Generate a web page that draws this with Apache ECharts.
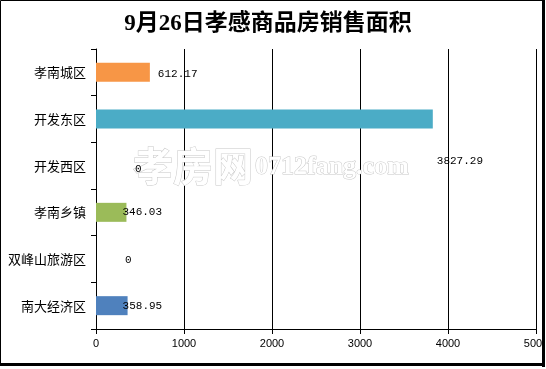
<!DOCTYPE html>
<html>
<head>
<meta charset="utf-8">
<script src="https://cdn.jsdelivr.net/npm/echarts@6/dist/echarts.min.js"></script>
<style>
html,body{margin:0;padding:0;background:#fff;}
#chart{width:546px;height:369px;}
</style>
</head>
<body>
<div id="chart"></div>
<script>
// ---- data ----
const titleText = '9月26日孝感商品房销售面积';
const categories = ['孝南城区', '开发东区', '开发西区', '孝南乡镇', '双峰山旅游区', '南大经济区'];
const values = [612.17, 3827.29, 0, 346.03, 0, 358.95];
const xMin = 0;
const xMax = 5000;
const xInterval = 1000;
const watermarkCn = '孝房网';
const watermarkEn = '0712fang.com';

// ---- styles ----
const barColors = ['#F79646', '#4BACC6', '#4BACC6', '#9BBB59', '#9BBB59', '#4F81BD'];
const labelOffsets = [[8, 2], [4, 42], [39, 3], [-4, 0], [29, 1], [-5, 0]];

const chart = echarts.init(document.getElementById('chart'), null, {renderer: 'canvas'});

const seriesData = values.map((v, i) => ({
  value: v,
  itemStyle: {color: barColors[i]},
  label: {offset: labelOffsets[i]}
}));

const option = {
  backgroundColor: '#fff',
  animation: false,
  grid: {left: 96, right: 10, top: 49, bottom: 40, containLabel: false, outerBoundsMode: 'none'},
  xAxis: {
    type: 'value',
    min: xMin,
    max: xMax,
    interval: xInterval,
    axisLine: {show: true, lineStyle: {color: '#000', width: 1}},
    axisTick: {show: true, length: 5, lineStyle: {color: '#000'}},
    splitLine: {show: true, lineStyle: {color: '#000', width: 1}},
    axisLabel: {color: '#000', fontSize: 11, fontFamily: 'Liberation Sans', margin: 9,
      formatter: v => String(v)}
  },
  yAxis: {
    type: 'category',
    data: categories,
    inverse: true,
    axisLine: {show: true, lineStyle: {color: '#000', width: 1}},
    axisTick: {show: true, length: 5, lineStyle: {color: '#000'}},
    splitLine: {show: false},
    axisLabel: {color: '#000', fontSize: 13, fontFamily: 'Noto Sans CJK SC', margin: 10}
  },
  series: [{
    type: 'bar',
    data: seriesData,
    barWidth: 19,
    label: {
      show: true,
      position: 'right',
      distance: 0,
      color: '#000',
      fontSize: 11,
      fontFamily: 'Liberation Mono',
      formatter: p => String(p.value)
    },
    z: 3
  }],
  graphic: [
    {
      type: 'text', z: 1, silent: true,
      style: {text: watermarkCn, x: 133, y: 166, textAlign: 'left', textVerticalAlign: 'middle',
        font: 'bold 40px "Noto Sans CJK SC"', fill: '#fff', stroke: '#c8c8c8', lineWidth: 1}
    },
    {
      type: 'text', z: 1, silent: true,
      style: {text: watermarkEn, x: 255, y: 167, textAlign: 'left', textVerticalAlign: 'middle',
        font: 'bold 26px "Liberation Serif"', fill: '#fff', stroke: '#c8c8c8', lineWidth: 1}
    },
    {
      type: 'text', z: 10, silent: true,
      style: {text: titleText, x: 268, y: 24, textAlign: 'center', textVerticalAlign: 'middle',
        font: 'bold 23px "Liberation Serif", "Noto Sans CJK SC"', fill: '#000'}
    },
    // frame
    {type: 'rect', z: 20, silent: true, shape: {x: 542, y: 0, width: 4, height: 369}, style: {fill: '#fff'}},
    {type: 'rect', z: 21, silent: true, shape: {x: 0.5, y: 0.5, width: 543, height: 364}, style: {fill: null, stroke: '#000', lineWidth: 1}},
    {type: 'rect', z: 21, silent: true, shape: {x: 542, y: 0, width: 3, height: 367}, style: {fill: '#000'}},
    {type: 'rect', z: 21, silent: true, shape: {x: 0, y: 363, width: 545, height: 3}, style: {fill: '#000'}}
  ]
};
chart.setOption(option);
</script>
</body>
</html>
